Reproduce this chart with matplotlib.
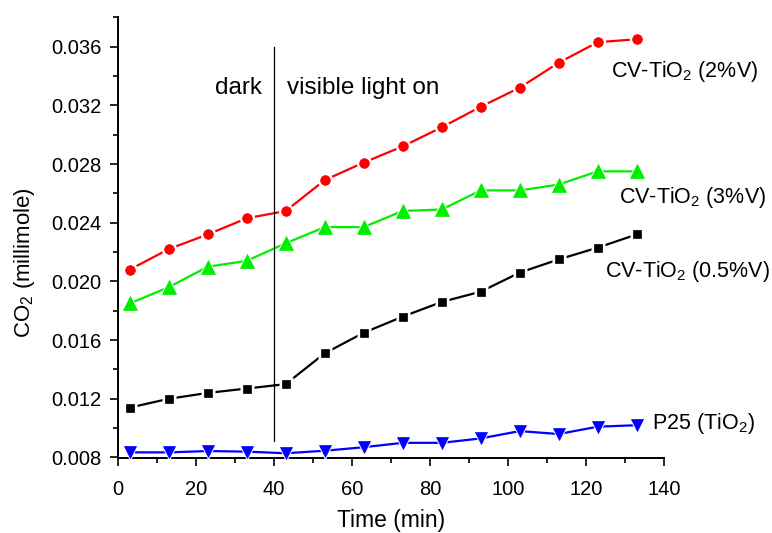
import matplotlib
matplotlib.use("Agg")
import matplotlib.pyplot as plt
from matplotlib.ticker import MultipleLocator, FormatStrFormatter

plt.rcParams["font.family"] = ["Liberation Sans", "DejaVu Sans"]
plt.rcParams["mathtext.default"] = "regular"

# 時間 (min) と各試料の CO2 生成量 (millimole)
time_min = [3, 13, 23, 33, 43, 53, 63, 73, 83, 93, 103, 113, 123, 133]
cv_2 = [0.0208, 0.0222, 0.0232, 0.0243, 0.0248, 0.0269, 0.0281, 0.0292,
        0.0305, 0.0319, 0.0332, 0.0349, 0.0363, 0.0365]
cv_3 = [0.0185, 0.0196, 0.0210, 0.0214, 0.0226, 0.0237, 0.0237, 0.0248,
        0.0249, 0.0262, 0.0262, 0.0266, 0.0275, 0.0275]
cv_05 = [0.0114, 0.0120, 0.0124, 0.0127, 0.0130, 0.0151, 0.0165, 0.0176,
         0.0186, 0.0193, 0.0206, 0.0215, 0.0223, 0.0232]
p25 = [0.00835, 0.00835, 0.00844, 0.0084, 0.00829, 0.00846, 0.0087, 0.0090,
       0.0090, 0.0093, 0.0098, 0.0096, 0.0101, 0.0102]

labels = ["CV-TiO$_2$ (2%V)", "CV-TiO$_2$ (3%V)", "CV-TiO$_2$ (0.5%V)", "P25 (TiO$_2$)"]
label_pos = [(126.5, 0.0343), (128.5, 0.0257), (124.8, 0.0207), (136.8, 0.0103)]

fig = plt.figure(figsize=(7.72, 5.33), dpi=100)
ax = fig.add_axes([118 / 772, 1 - 457.5 / 533, 546 / 772, 440.25 / 533])

styles = [
    (cv_2, "#ff0000", "o", 7),
    (cv_3, "#00ee00", "^", 10),
    (cv_05, "#000000", "s", 5.5),
    (p25, "#0000ff", "v", 8.5),
]
for ys, c, m, ms in styles:
    ax.plot(time_min, ys, color=c, lw=1.6, zorder=2)
    # Origin 風に線とマーカーの間に白い隙間を作る
    ax.plot(time_min, ys, ls="none", marker=m, ms=ms + 4, mfc="white",
            mec="none", clip_on=False, zorder=3)
    ax.plot(time_min, ys, ls="none", marker=m, ms=ms, mfc=c, mec=c,
            mew=0.5, clip_on=False, zorder=4)

for (x, y), t in zip(label_pos, labels):
    ax.text(x, y, t, fontsize=15.5, ha="left", va="center")

# 暗条件 / 可視光照射の境界
ax.plot([40, 40], [0.0091, 0.0360], color="black", lw=0.9)
ax.text(37, 0.0332, "dark", fontsize=17.5, ha="right", va="center")
ax.text(43.3, 0.0332, "visible light on", fontsize=17.5, ha="left", va="center")

ax.set_xlim(0, 140)
ax.set_ylim(0.008, 0.038)
ax.xaxis.set_major_locator(MultipleLocator(20))
ax.xaxis.set_minor_locator(MultipleLocator(10))
ax.yaxis.set_minor_locator(MultipleLocator(0.002))
ax.yaxis.set_major_formatter(FormatStrFormatter("%.3f"))
ax.set_yticks([0.008, 0.012, 0.016, 0.020, 0.024, 0.028, 0.032, 0.036])

for s in ["top", "right"]:
    ax.spines[s].set_visible(False)
for s in ["left", "bottom"]:
    ax.spines[s].set_linewidth(1.4)
ax.tick_params(which="major", direction="out", length=6, width=1.2,
               labelsize=14.5, pad=6)
ax.tick_params(axis="x", which="major", pad=10)
ax.tick_params(which="minor", direction="out", length=3.5, width=1.2)

ax.set_xlabel("Time (min)", fontsize=16.5)
ax.xaxis.set_label_coords(0.5, -0.118)
ax.xaxis.label.set_va("top")
ax.set_ylabel("CO$_2$ (millimole)", fontsize=16)
ax.yaxis.set_label_coords(-0.148, 0.444)

fig.savefig("out.png", dpi=100)
